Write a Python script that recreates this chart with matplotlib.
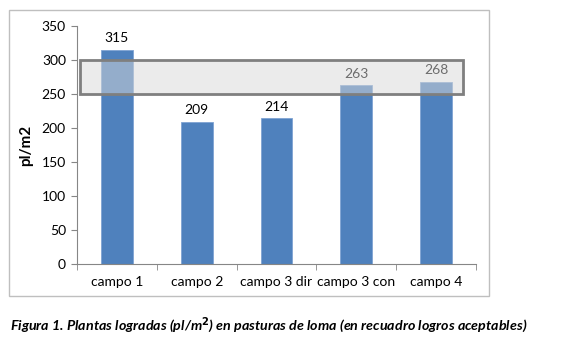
import matplotlib
matplotlib.use("Agg")
import matplotlib.pyplot as plt
from matplotlib.patches import Rectangle

campos = ["campo 1", "campo 2", "campo 3 dir", "campo 3 con", "campo 4"]
plantas = [315, 209, 214, 263, 268]
y_ticks = [0, 50, 100, 150, 200, 250, 300, 350]
aceptable = (250, 300)  # recuadro de logros aceptables

plt.rcParams["font.family"] = ["Lato", "DejaVu Sans"]

fig = plt.figure(figsize=(5.76, 3.57), dpi=100)
ax = fig.add_axes([77 / 576, 1 - 264 / 357, 399 / 576, 238 / 357])

# chart border
fig.patches.append(Rectangle((9 / 576, 1 - 296 / 357), 480 / 576, 286 / 357,
                             transform=fig.transFigure, fill=False,
                             edgecolor="#bfbfbf", linewidth=1.0))

x = range(len(campos))
bars = ax.bar(x, plantas, width=0.40, color="#4f81bd", edgecolor="#7fa3d3",
              linewidth=0.6, zorder=2)
for xi, v in zip(x, plantas):
    ax.text(xi, v + 8, str(v), ha="center", va="bottom", fontsize=10, zorder=3)

# recuadro: x desde -0.462 hasta 4.337 (en unidades de categoría)
rx0, rx1 = -0.462, 4.337
ax.add_patch(Rectangle((rx0, aceptable[0]), rx1 - rx0, aceptable[1] - aceptable[0],
                       facecolor="#d9d9d9", alpha=0.5, edgecolor="none",
                       zorder=4, clip_on=False))
ax.add_patch(Rectangle((rx0, aceptable[0]), rx1 - rx0, aceptable[1] - aceptable[0],
                       fill=False, edgecolor="#7f7f7f", linewidth=2.0,
                       zorder=5, clip_on=False))

ax.set_xlim(-0.5, len(campos) - 0.5)
ax.set_ylim(0, 350)
ax.set_yticks(y_ticks)
ax.set_xticks(list(x))
ax.set_xticklabels(campos)
ax.set_xticks([i - 0.5 for i in range(len(campos) + 1)], minor=True)
ax.tick_params(axis="x", which="major", length=0, pad=9, labelsize=10)
ax.tick_params(axis="x", which="minor", length=4, color="#868686", direction="out")
ax.tick_params(axis="y", length=4, color="#868686", labelsize=10, pad=4)
for s in ["top", "right"]:
    ax.spines[s].set_visible(False)
for s in ["left", "bottom"]:
    ax.spines[s].set_color("#868686")
ax.set_ylabel("pl/m2", fontsize=11, fontweight="bold", labelpad=6)

fig.text(10 / 576, 1 - 325 / 357,
         "Figura 1. Plantas logradas (pl/m$^{\\mathbf{2}}$) en pasturas de loma (en recuadro logros aceptables)",
         fontsize=10.3, fontweight="bold", fontstyle="italic", va="center", ha="left")

fig.savefig("out.png", dpi=100)
